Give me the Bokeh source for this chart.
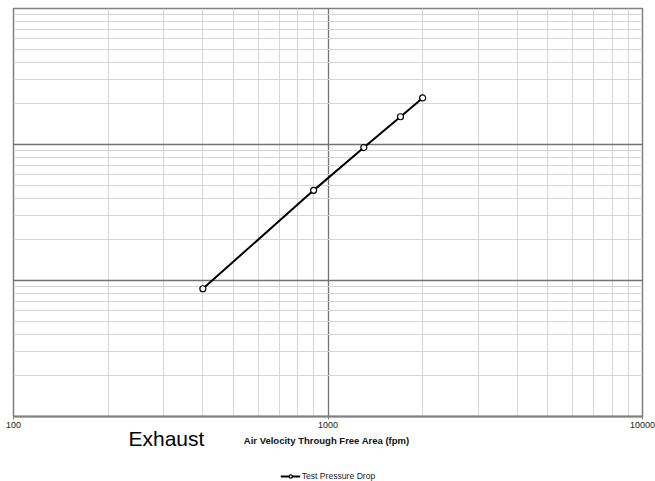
from bokeh.plotting import figure
from bokeh.layouts import column
from bokeh.models import FixedTicker, NumeralTickFormatter, Label, Legend, LegendItem
from bokeh.embed import file_html
from bokeh.resources import INLINE

# data
velocity_fpm = [400, 900, 1300, 1700, 2000]
pressure_drop = [0.087, 0.46, 0.95, 1.6, 2.2]
x_major_ticks = [100, 1000, 10000]
y_major_ticks = [0.01, 0.1, 1, 10]
x_minor_ticks = [m * 10 ** e for e in (2, 3) for m in range(2, 10)]
y_minor_ticks = [m * 10.0 ** e for e in (-2, -1, 0) for m in range(2, 10)]
series_name = "Test Pressure Drop"
x_title = "Air Velocity  Through Free Area (fpm)"
chart_label = "Exhaust"

FONT = "Liberation Sans"

p = figure(x_axis_type="log", y_axis_type="log",
           x_range=(100, 10000), y_range=(0.01, 10),
           width=655, height=471,
           min_border_left=13, min_border_right=13, min_border_top=8, min_border_bottom=55,
           output_backend="svg", toolbar_location=None)

p.background_fill_color = "white"
p.border_fill_color = "white"
p.outline_line_color = "#808080"
p.outline_line_width = 1.5

p.xaxis.ticker = FixedTicker(ticks=x_major_ticks, minor_ticks=x_minor_ticks)
p.yaxis.ticker = FixedTicker(ticks=y_major_ticks, minor_ticks=y_minor_ticks)
p.xaxis.formatter = NumeralTickFormatter(format="0")
p.yaxis.visible = False

for g in (p.xgrid, p.ygrid):
    g.grid_line_color = "#727272"
    g.grid_line_width = 1.3
    g.minor_grid_line_color = "#d6d6d6"
    g.minor_grid_line_width = 1

ax = p.xaxis[0]
ax.axis_line_color = "#808080"
ax.axis_line_width = 2
ax.major_tick_in = 0
ax.major_tick_out = 3
ax.major_tick_line_color = "#808080"
ax.minor_tick_in = 0
ax.minor_tick_out = 0
ax.major_label_standoff = 2
ax.major_label_text_font = FONT
ax.major_label_text_font_size = "9px"
ax.major_label_text_color = "#222222"
ax.axis_label = x_title
ax.axis_label_text_font = FONT
ax.axis_label_text_font_style = "bold"
ax.axis_label_text_font_size = "9.5px"
ax.axis_label_text_color = "#111111"
ax.axis_label_standoff = 4

p.line(velocity_fpm, pressure_drop, line_color="black", line_width=2)
p.scatter(velocity_fpm, pressure_drop, marker="circle", size=6,
          fill_color="white", line_color="black", line_width=1.2)

lbl = Label(x=115, y=0, x_units="screen", y_units="screen", text=chart_label,
            text_font=FONT, text_font_size="21px", text_color="black",
            text_baseline="bottom", y_offset=22)
p.add_layout(lbl, "below")

# legend strip (its own small figure so that it is not clipped)
p2 = figure(x_axis_type=None, y_axis_type=None, x_range=(0, 1), y_range=(0, 1),
            width=655, height=10, min_border=0,
            output_backend="svg", toolbar_location=None)
p2.outline_line_color = None
p2.grid.visible = False
p2.background_fill_alpha = 0
p2.border_fill_color = "white"
leg_line = p2.line(velocity_fpm, pressure_drop, line_color="black", line_width=2)
leg_pts = p2.scatter(velocity_fpm, pressure_drop, marker="circle", size=6,
                     fill_color="white", line_color="black", line_width=1.2)

legend = Legend(items=[LegendItem(label=series_name, renderers=[leg_line, leg_pts])],
                location="center", orientation="horizontal",
                border_line_alpha=0, background_fill_alpha=0,
                label_text_font=FONT, label_text_font_size="8.6px",
                label_text_color="#222222",
                glyph_width=20, glyph_height=8, label_height=8,
                label_standoff=2, padding=0, margin=0, spacing=0)
p2.add_layout(legend)

layout = column(p, p2, spacing=0)
open("out.html", "w").write(file_html(layout, INLINE))
